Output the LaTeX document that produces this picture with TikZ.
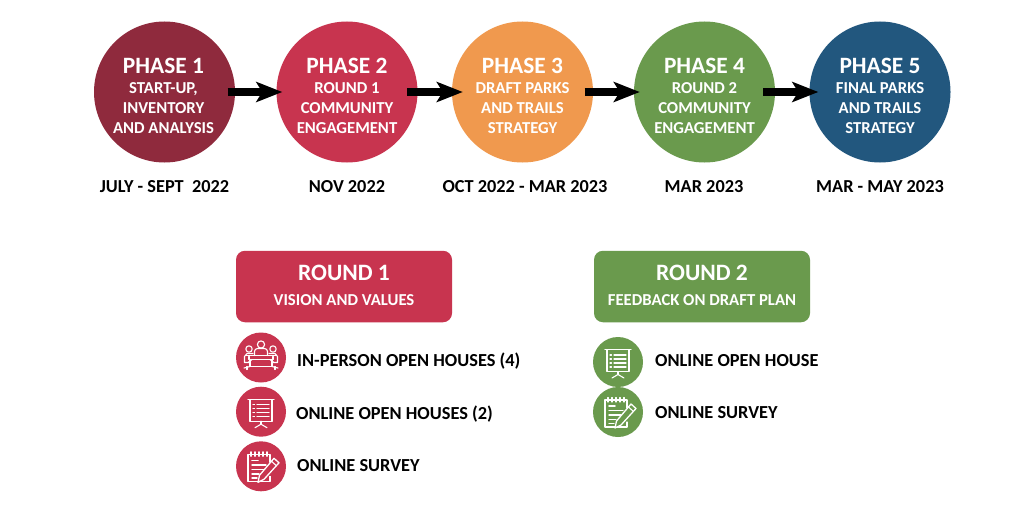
\documentclass[tikz,border=0pt]{standalone}
\usepackage{fontspec}
\setmainfont{Carlito}
\usetikzlibrary{arrows.meta}
\definecolor{cone}{HTML}{8F2A3D}
\definecolor{ctwo}{HTML}{C8344F}
\definecolor{cthree}{HTML}{F0994E}
\definecolor{cfour}{HTML}{6A9A4D}
\definecolor{cfive}{HTML}{22577E}
\colorlet{icofill}{ctwo}
\tikzset{
 x=1pt,y=-1pt,
 phase/.style={circle,minimum size=141pt,inner sep=0pt,fill=#1},
 ptitle/.style={text=white,font=\fontsize{23.4}{23}\bfseries\selectfont},
 pbody/.style={text=white,align=center,font=\fontsize{16.7}{20}\bfseries\selectfont},
 datelab/.style={text=black,font=\fontsize{18.3}{20}\bfseries\selectfont},
 flow/.style={line width=8pt,-{Stealth[length=26pt,width=20pt,inset=6pt]}},
 roundbox/.style={rounded corners=9pt,minimum width=216pt,minimum height=71.5pt,inner sep=0pt,fill=#1},
 rtitle/.style={text=white,font=\fontsize{23.5}{22}\bfseries\selectfont},
 rbody/.style={text=white,font=\fontsize{16.7}{18}\bfseries\selectfont},
 disc/.style={circle,minimum size=50pt,inner sep=0pt,fill=#1},
 itemlab/.style={text=black,font=\fontsize{18.35}{20}\bfseries\selectfont},
 ico/.style={draw=white,line width=1.1pt,line cap=round,line join=round},
 board/.pic={
  \draw[ico] (-13,-12.5)--(13,-12.5);
  \draw[ico] (-11,-12.5) rectangle (11,9.5);
  \foreach \yy in {-7,-3,1,5}{
   \draw[ico] (-8,\yy)--(-6.5,\yy);
   \draw[ico] (-4,\yy)--(8,\yy);
  }
  \draw[ico] (0,9.5)--(0,12.5);
  \draw[ico] (-6,16)--(0,12.5)--(6,16);
 },
 notepad/.pic={
  \draw[ico] (9,-4)--(9,-12)--(-13,-12)--(-13,15)--(9,15)--(9,10);
  \foreach \xx in {-10,-6,-2,2,6}{\draw[ico] (\xx,-14.5)--(\xx,-10);}
  \draw[ico,line width=1.6pt] (-9,-6)--(-3,-6);
  \draw[ico,line width=1.4pt] (-9,-1.5)--(5,-1.5);
  \draw[ico,line width=1.4pt] (-9,3)--(3,3);
  \draw[ico,line width=1.4pt] (-9,7.5)--(-2,7.5);
  \draw[ico,line width=1.4pt] (-9,11.5)--(-4,11.5);
  \draw[ico,fill=icofill,line width=1.3pt] (13,-8)--(18,-3.5)--(3,13)--(-3,16)--(-1.5,9)--cycle;
  \draw[ico] (10.5,-5)--(15.5,-0.5);
 },
 people/.pic={
  \draw[ico] (0,-13) circle (3.6);
  \draw[ico] (-6.5,-2)--(-6.5,-6) arc[start angle=180,end angle=270,radius=3]--(3.5,-9) arc[start angle=-90,end angle=0,radius=3]--(6.5,-2);
  \draw[ico] (-12,-8.5) circle (3.2);
  \draw[ico] (12,-8.5) circle (3.2);
  \draw[ico] (-8,-4)--(-14,-4)--(-16.5,-1)--(-16.5,5)--(-11,5);
  \draw[ico] (8,-4)--(14,-4)--(16.5,-1)--(16.5,5)--(11,5);
  \draw[ico] (-12,-1)--(-12,2);
  \draw[ico] (12,-1)--(12,2);
  \draw[ico] (-15,-2)--(15,-2);
  \draw[ico] (-11,2)--(11,2)--(11,9)--(-11,9)--cycle;
  \draw[ico] (-13,5)--(-9,2);
  \draw[ico] (13,5)--(9,2);
  \draw[ico] (-17,10.5)--(-11,9);
  \draw[ico] (17,10.5)--(11,9);
  \draw[ico] (-14,9)--(-14,12);
  \draw[ico] (14,9)--(14,12);
 },
}
\begin{document}
\begin{tikzpicture}
\useasboundingbox (0,0) rectangle (1024,511);
\fill[white] (0,0) rectangle (1024,511);
% phases
\node[phase=cone]   (p1) at (164.5,92) {};
\node[phase=ctwo]   (p2) at (347,92) {};
\node[phase=cthree] (p3) at (522.5,92) {};
\node[phase=cfour]  (p4) at (704.5,92) {};
\node[phase=cfive]  (p5) at (880,92) {};
% arrows
\draw[flow,shorten <=-7.5pt,shorten >=-6pt] (p1.east) -- (p2.west);
\draw[flow,shorten <=-10.5pt,shorten >=-11pt] (p2.east) -- (p3.west);
\draw[flow,shorten <=-8.5pt,shorten >=-6pt] (p3.east) -- (p4.west);
\draw[flow,shorten <=-12pt,shorten >=-9pt] (p4.east) -- (p5.west);
% phase texts
\node[ptitle] (t1) at (163.5,66) {PHASE 1};
\node[ptitle] (t2) at (347,66) {PHASE 2};
\node[ptitle] (t3) at (522.5,66) {PHASE 3};
\node[ptitle] (t4) at (704.5,66) {PHASE 4};
\node[ptitle] (t5) at (880,66) {PHASE 5};
\node[pbody] (b1) at (163.5,108) {START-UP,\\INVENTORY\\AND ANALYSIS};
\node[pbody] (b2) at (347,108) {ROUND 1\\COMMUNITY\\ENGAGEMENT};
\node[pbody] (b3) at (522.5,108) {DRAFT PARKS\\AND TRAILS\\STRATEGY};
\node[pbody] (b4) at (704.5,108) {ROUND 2\\COMMUNITY\\ENGAGEMENT};
\node[pbody] (b5) at (880,108) {FINAL PARKS\\AND TRAILS\\STRATEGY};
% dates
\node[datelab] (d1) at (164.5,187) {JULY - SEPT\ \ 2022};
\node[datelab] (d2) at (347,187) {NOV 2022};
\node[datelab] (d3) at (525,187) {OCT 2022 - MAR 2023};
\node[datelab] (d4) at (704,187) {MAR 2023};
\node[datelab] (d5) at (880,187) {MAR - MAY 2023};
% round boxes
\node[roundbox=ctwo]  (r1) at (344,286.5) {};
\node[roundbox=cfour] (r2) at (702,286.5) {};
\node[rtitle] (r1t) at (344,272.5) {ROUND 1};
\node[rbody]  (r1b) at (344,300) {VISION AND VALUES};
\node[rtitle] (r2t) at (702,272.5) {ROUND 2};
\node[rbody]  (r2b) at (702,300) {FEEDBACK ON DRAFT PLAN};
% discs
\node[disc=ctwo]  (i1) at (261,357.5) {};
\node[disc=ctwo]  (i2) at (261,411.7) {};
\node[disc=ctwo]  (i3) at (261,466.3) {};
\node[disc=cfour] (i4) at (618,362) {};
\node[disc=cfour] (i5) at (618,412) {};
\pic at (i1.center) {people};
\pic at (i2.center) {board};
\pic at (i3.center) {notepad};
\pic at (i4.center) {board};
\colorlet{icofill}{cfour}
\pic at (i5.center) {notepad};
% labels
\node[itemlab,anchor=base west,inner sep=0pt] (l1) at (297,366) {IN-PERSON OPEN HOUSES (4)};
\node[itemlab,anchor=base west,inner sep=0pt] (l2) at (296,419) {ONLINE OPEN HOUSES (2)};
\node[itemlab,anchor=base west,inner sep=0pt] (l3) at (297,471) {ONLINE SURVEY};
\node[itemlab,anchor=base west,inner sep=0pt] (l4) at (655,366) {ONLINE OPEN HOUSE};
\node[itemlab,anchor=base west,inner sep=0pt] (l5) at (655,418) {ONLINE SURVEY};
\end{tikzpicture}
\end{document}
